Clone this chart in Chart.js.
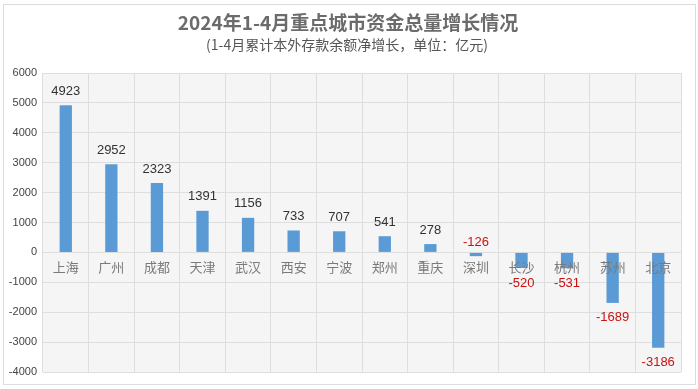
<!DOCTYPE html>
<html>
<head>
<meta charset="utf-8">
<script src="https://cdn.jsdelivr.net/npm/chart.js@4"></script>
<style>
  html, body { margin: 0; padding: 0; background: #fff; }
  #wrap { width: 698px; height: 389px; }
</style>
</head>
<body>
<div id="wrap"><canvas id="barChart" width="698" height="389"></canvas></div>
<script>
// chart data
const cities = ['上海', '广州', '成都', '天津', '武汉', '西安', '宁波', '郑州', '重庆', '深圳', '长沙', '杭州', '苏州', '北京'];
const growth = [4923, 2952, 2323, 1391, 1156, 733, 707, 541, 278, -126, -520, -531, -1689, -3186];
const titleText = '2024年1-4月重点城市资金总量增长情况';
const subtitleText = '(1-4月累计本外存款余额净增长，单位：亿元)';

const numFont = '"Liberation Sans", Arial, sans-serif';
const cjkFont = '"Noto Sans CJK SC", "Noto Sans", sans-serif';

// frame, plot background and titles
const decoPlugin = {
    id: 'deco',
    beforeDraw(chart) {
        const ctx = chart.ctx;
        const a = chart.chartArea;
        ctx.save();
        ctx.strokeStyle = '#dcdcdc';
        ctx.lineWidth = 1;
        ctx.strokeRect(3.5, 4.5, 692, 380);
        ctx.fillStyle = '#f5f5f5';
        ctx.fillRect(a.left, a.top, a.right - a.left, a.bottom - a.top);
        ctx.textAlign = 'center';
        ctx.textBaseline = 'middle';
        ctx.fillStyle = '#6b6b6b';
        ctx.font = 'bold 19px ' + cjkFont;
        ctx.fillText(titleText, 348, 23);
        ctx.fillStyle = '#555';
        ctx.font = '14px ' + cjkFont;
        ctx.fillText(subtitleText, 347, 45);
        ctx.restore();
    }
};

// value labels and category names, drawn over the bars
const labelPlugin = {
    id: 'barLabels',
    afterDatasetsDraw(chart) {
        const ctx = chart.ctx;
        const meta = chart.getDatasetMeta(0);
        const zeroY = chart.scales.y.getPixelForValue(0);
        ctx.save();
        ctx.textAlign = 'center';
        ctx.textBaseline = 'middle';
        meta.data.forEach((bar, i) => {
            const v = growth[i];
            ctx.font = '13px ' + cjkFont;
            ctx.fillStyle = '#7a7a7a';
            ctx.fillText(cities[i], bar.x, zeroY + 15);

            ctx.font = '13px ' + numFont;
            let y;
            if (v >= 0) {
                ctx.fillStyle = '#333';
                y = bar.y - 14;
            } else if (v > -300) {
                ctx.fillStyle = '#cc1111';
                y = zeroY - 10;
            } else {
                ctx.fillStyle = '#cc1111';
                y = bar.y + 15;
            }
            ctx.fillText(String(v), bar.x, y);
        });
        ctx.restore();
    }
};

new Chart(document.getElementById('barChart'), {
    type: 'bar',
    data: {
        labels: cities,
        datasets: [{
            data: growth,
            backgroundColor: '#5b9bd5',
            barPercentage: 0.27,
            categoryPercentage: 1
        }]
    },
    options: {
        responsive: false,
        animation: false,
        layout: { padding: { top: 73, right: 17, bottom: 17, left: 0 } },
        plugins: {
            legend: { display: false },
            tooltip: { enabled: false }
        },
        scales: {
            x: {
                grid: { color: '#dedede', drawTicks: false },
                border: { display: false },
                ticks: { display: false }
            },
            y: {
                min: -4000,
                max: 6000,
                grid: { color: '#dedede', drawTicks: false },
                border: { display: false },
                ticks: {
                    stepSize: 1000,
                    color: '#444',
                    font: { family: numFont, size: 11 },
                    padding: 6,
                    callback: v => String(v)
                },
                afterFit(scale) { scale.width = 43; }
            }
        }
    },
    plugins: [decoPlugin, labelPlugin]
});
</script>
</body>
</html>
